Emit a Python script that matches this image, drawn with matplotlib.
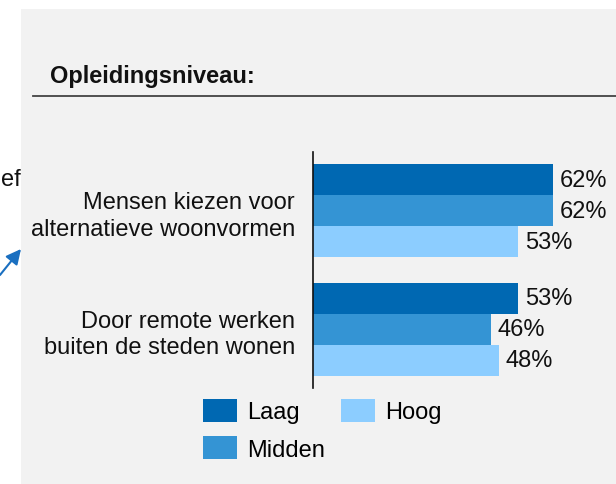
import numpy as np
import matplotlib.pyplot as plt
from matplotlib.patches import Rectangle

plt.rcParams['font.family'] = ['Liberation Sans', 'DejaVu Sans']

categories = ['Mensen kiezen voor\nalternatieve woonvormen',
              'Door remote werken\nbuiten de steden wonen']
series = ['Laag', 'Midden', 'Hoog']
values = {
    'Laag': [62, 53],
    'Midden': [62, 46],
    'Hoog': [53, 48],
}
colors = {'Laag': '#0068b2', 'Midden': '#3494d4', 'Hoog': '#8ccdff'}

W, H = 616, 485
fig = plt.figure(figsize=(W / 100, H / 100), dpi=100)
fig.patch.set_facecolor('white')

def fx(px):
    return px / W

def fy(py):
    return 1 - py / H

# grey panel
fig.patches.append(Rectangle((fx(21), 0), 1 - fx(21), fy(10), transform=fig.transFigure,
                             facecolor='#f2f2f2', edgecolor='none', zorder=-5))

# header
fig.text(fx(50), fy(83.5), 'Opleidingsniveau:', fontsize=17, fontweight='bold',
         ha='left', va='baseline', color='#111111')
fig.add_artist(plt.Line2D([fx(33), 1], [fy(97), fy(97)], transform=fig.transFigure,
                          color='#444444', linewidth=1.3))

# cut-off bits from the neighbouring panel
fig.text(fx(1), fy(186), 'ef', fontsize=17, ha='left', va='baseline', color='#111111')
fig.add_artist(plt.matplotlib.text.Annotation(
    '', xy=(fx(21), fy(250)), xytext=(fx(0), fy(276)),
    xycoords='figure fraction', textcoords='figure fraction',
    arrowprops=dict(arrowstyle='-|>,head_length=0.9,head_width=0.45',
                    color='#1a6fc0', lw=1.5, shrinkA=0, shrinkB=0)))

# bars
ax = fig.add_axes([fx(313), fy(389), 1 - fx(313), fy(153) - fy(389)])
ax.set_facecolor('none')
y = np.arange(len(categories))
h = 0.261
offsets = {'Laag': -h, 'Midden': 0, 'Hoog': h}
for s in series:
    bars = ax.barh(y + offsets[s], values[s], height=h, color=colors[s], label=s,
                   edgecolor='none')
    ax.bar_label(bars, labels=[f'{v}%' for v in values[s]], padding=5,
                 fontsize=17, color='#111111', clip_on=False)

ax.set_xlim(0, 303 / 3.866)
ax.set_ylim(1.493, -0.495)
ax.set_yticks(y)
ax.set_yticklabels(categories, fontsize=17, color='#111111', linespacing=1.25,
                   ha='right')
ax.tick_params(axis='y', length=0, pad=13)
ax.set_xticks([])
for sp in ['top', 'right', 'bottom']:
    ax.spines[sp].set_visible(False)
ax.spines['left'].set_linewidth(1.2)
ax.spines['left'].set_color('#111111')

handles, labels = ax.get_legend_handles_labels()
fig.legend(handles, labels, ncol=2, loc='upper left',
           bbox_to_anchor=(fx(203), fy(400)), frameon=False, fontsize=17,
           handlelength=1.45, handleheight=1.1, handletextpad=0.43,
           columnspacing=0.65, labelspacing=0.55, borderpad=0, borderaxespad=0)

fig.savefig('out.png', dpi=100)
